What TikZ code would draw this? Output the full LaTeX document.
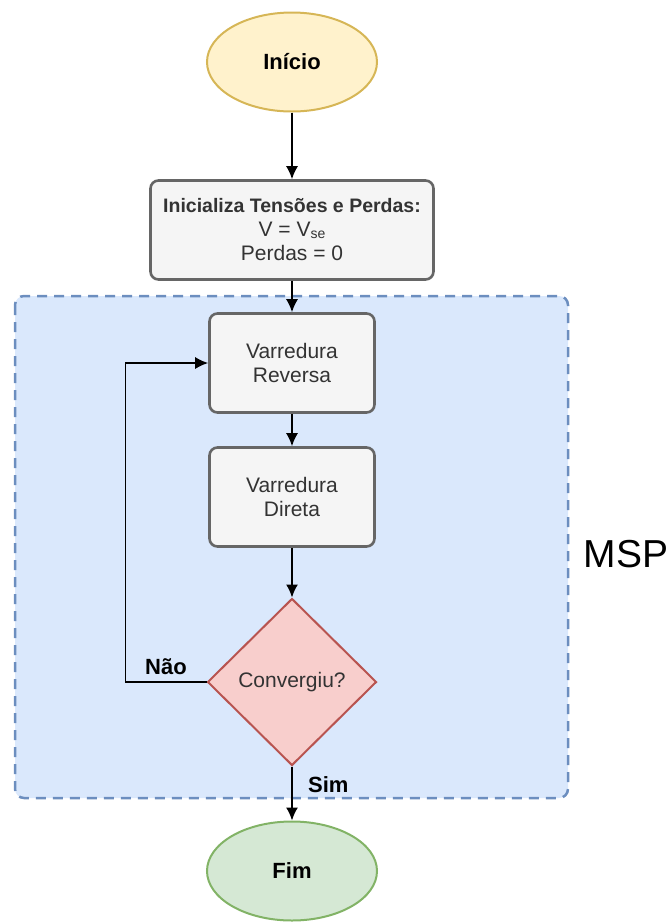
\documentclass[tikz,border=0pt]{standalone}
\usepackage{fontspec}
\setmainfont{Liberation Sans}
\usetikzlibrary{shapes.geometric,arrows.meta}

\definecolor{startfill}{HTML}{FFF2CC}
\definecolor{startdraw}{HTML}{D6B656}
\definecolor{boxfill}{HTML}{F5F5F5}
\definecolor{boxdraw}{HTML}{666666}
\definecolor{boxtext}{HTML}{333333}
\definecolor{mspfill}{HTML}{DAE8FC}
\definecolor{mspdraw}{HTML}{6C8EBF}
\definecolor{decfill}{HTML}{F8CECC}
\definecolor{decdraw}{HTML}{B85450}
\definecolor{endfill}{HTML}{D5E8D4}
\definecolor{enddraw}{HTML}{82B366}

\begin{document}
\begin{tikzpicture}[x=1pt, y=1pt, node distance=134pt, auto,
    font=\fontsize{21}{24}\selectfont,
    terminal/.style={ellipse, draw, line width=2pt, minimum width=170pt, minimum height=99pt, font=\fontsize{22}{24}\selectfont\bfseries},
    block/.style={rectangle, draw=boxdraw, fill=boxfill, text=boxtext, line width=2.6pt, rounded corners=8pt, minimum width=165pt, minimum height=99pt, align=center},
    decision/.style={diamond, draw=decdraw, fill=decfill, text=boxtext, line width=2pt, minimum width=169pt, minimum height=167pt, inner sep=0pt},
    region/.style={draw=mspdraw, fill=mspfill, line width=2.5pt, dash pattern=on 10pt off 7pt, rounded corners=9pt},
    line/.style={draw, -{Latex[length=13pt,width=12pt]}, line width=1.6pt}]

    \useasboundingbox (0,0) rectangle (668,-922);
    \path [region] (15,-296) rectangle (568,-798);

    \node [terminal, fill=startfill, draw=startdraw] (inicio) at (292,-62) {Início};
    \node [block, below of=inicio, node distance=168pt, minimum width=283pt] (init)
        {{\fontsize{19.5}{24}\selectfont\bfseries Inicializa Tensões e Perdas:}\\V = V\raisebox{-2pt}{\fontsize{14}{14}\selectfont se}\\Perdas = 0};
    \node [block, below of=init, node distance=133pt] (reversa) {Varredura\\Reversa};
    \node [block, below of=reversa] (direta) {Varredura\\Direta};
    \node [decision, below of=direta, node distance=185pt] (conv) {Convergiu?};
    \node [terminal, fill=endfill, draw=enddraw, below of=conv, node distance=189pt] (fim) {Fim};
    \node [anchor=west, font=\fontsize{39}{40}\selectfont] (msp) at (580,-554) {MSP};

    \path [line] (inicio) -- (init);
    \path [line] (init) -- (reversa);
    \path [line] (reversa) -- (direta);
    \path [line] (direta) -- (conv);
    \path [line] (conv) -- node [pos=0.33, right=12pt, font=\fontsize{22}{24}\selectfont\bfseries] {Sim} (fim);
    \path [line] (conv.west) -- node [midway, above=3pt, font=\fontsize{22}{24}\selectfont\bfseries] {Não} ++(-81,0) |- (reversa.west);
\end{tikzpicture}
\end{document}
